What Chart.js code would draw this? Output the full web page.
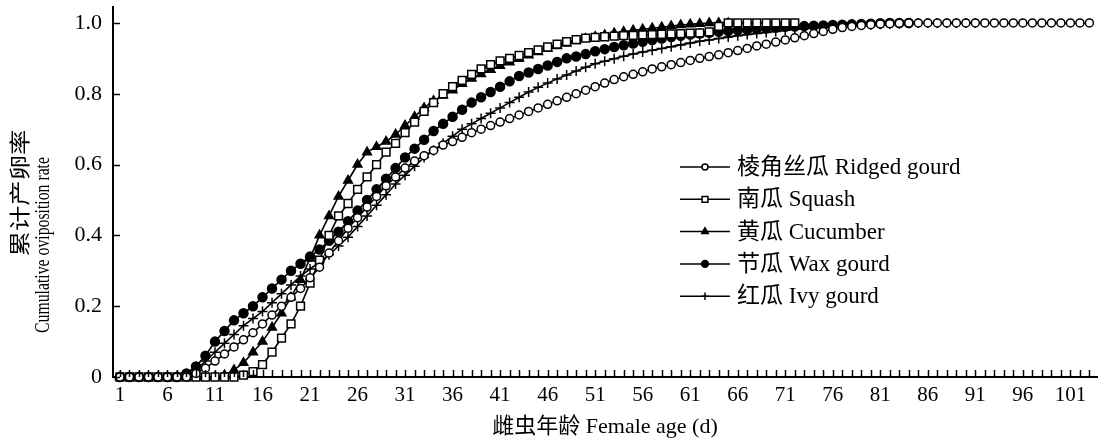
<!DOCTYPE html>
<html>
<head>
<meta charset="utf-8">
<script src="https://cdn.jsdelivr.net/npm/chart.js@4.4.1/dist/chart.umd.min.js"></script>
<style>
  html, body { margin: 0; padding: 0; background: #fff; }
  #wrap { position: relative; width: 1104px; height: 444px; }
</style>
</head>
<body>
<div id="wrap"><canvas id="ovipos"></canvas></div>
<script>
//  Cumulative oviposition rate by female age, one array per host plant (day 1 upward).
var ridgedGourd = [0, 0, 0, 0, 0, 0, 0, 0, .01, .025, .045, .065, .085, .105, .125, .15, .175, .2, .225, .25,
    .28, .31, .35, .385, .42, .45, .48, .51, .54, .565, .59, .61, .625, .64, .655, .665, .677, .69, .7, .71,
    .72, .73, .74, .75, .76, .77, .78, .79, .8, .81, .82, .83, .84, .848, .855, .862, .87, .876, .882, .888,
    .894, .9, .905, .91, .916, .922, .928, .935, .94, .946, .952, .958, .964, .97, .976, .982, .987, .99, .993, .995,
    .997, .998, .999, 1, 1, 1, 1, 1, 1, 1, 1, 1, 1, 1, 1, 1, 1, 1, 1, 1, 1, 1, 1];
var squash = [0, 0, 0, 0, 0, 0, 0, 0, 0, 0, 0, 0, 0, .005, .015, .035, .07, .11, .15, .2,
    .265, .33, .4, .455, .49, .53, .565, .6, .635, .66, .69, .72, .75, .775, .8, .82, .838, .855, .87, .882,
    .893, .9, .908, .916, .924, .932, .94, .947, .953, .957, .959, .961, .963, .964, .965, .966, .967, .968, .969, .97,
    .971, .972, .975, .99, 1, 1, 1, 1, 1, 1, 1, 1];
var cucumber = [0, 0, 0, 0, 0, 0, 0, 0, 0, 0, 0, .005, .02, .04, .07, .1, .14, .18, .225, .275,
    .335, .4, .455, .51, .555, .6, .635, .65, .665, .685, .71, .735, .76, .78, .795, .81, .828, .843, .856, .868,
    .879, .889, .899, .909, .918, .927, .935, .942, .949, .955, .961, .966, .971, .975, .979, .982, .985, .988, .991, .994,
    .996, .998, 1, 1, 1];
var waxGourd = [0, 0, 0, 0, 0, 0, 0, .01, .03, .06, .1, .13, .16, .18, .2, .225, .25, .275, .3, .32,
    .34, .36, .385, .41, .44, .47, .5, .53, .56, .59, .62, .645, .67, .695, .715, .735, .755, .775, .79, .805,
    .82, .835, .85, .86, .87, .88, .89, .9, .905, .912, .92, .926, .932, .937, .942, .947, .952, .956, .96, .964,
    .967, .97, .972, .975, .977, .979, .981, .983, .985, .987, .989, .99, .991, .992, .993, .994, .995, .996, .997, .998,
    .999, 1, 1, 1];
var ivyGourd = [0, 0, 0, 0, 0, 0, 0, .005, .02, .045, .07, .095, .12, .145, .165, .185, .21, .235, .26, .285,
    .305, .325, .345, .37, .395, .425, .455, .485, .515, .545, .57, .595, .62, .64, .66, .68, .7, .715, .73, .745,
    .76, .775, .79, .805, .818, .83, .842, .853, .864, .875, .885, .892, .899, .906, .912, .918, .923, .928, .933, .938,
    .943, .948, .952, .956, .96, .964, .967, .97, .973, .976, .979, .982, .984, .986, .988, .99, .992, .993, .994, .995,
    .996, .997, .998, .999, 1, 1, 1, 1, 1, 1, 1];

var seriesNames  = ['棱角丝瓜 Ridged gourd', '南瓜 Squash', '黄瓜 Cucumber', '节瓜 Wax gourd', '红瓜 Ivy gourd'];
var xTickLabels  = [1, 6, 11, 16, 21, 26, 31, 36, 41, 46, 51, 56, 61, 66, 71, 76, 81, 86, 91, 96, 101];
var yTickValues  = [0, 0.2, 0.4, 0.6, 0.8, 1.0];
var lastDay      = 103;

var SERIF = '"Liberation Serif", "Times New Roman", "Noto Sans CJK SC", serif';

//  turn a day-indexed array into {x, y} points
function toPoints(arr) {
    return arr.map(function (v, i) { return { x: i + 1, y: v }; });
}

//  marker style per series
var styles = [
    { pointStyle: 'circle',   radius: 4,   fill: '#fff' },
    { pointStyle: 'rect',     radius: 5.5, fill: '#fff' },
    { pointStyle: 'triangle', radius: 5,   fill: '#000' },
    { pointStyle: 'circle',   radius: 4.5, fill: '#000' },
    { pointStyle: 'cross',    radius: 5,   fill: '#000' }
];
var seriesData = [ridgedGourd, squash, cucumber, waxGourd, ivyGourd];

var datasets = seriesData.map(function (arr, i) {
    return {
        label: seriesNames[i],
        data: toPoints(arr),
        borderColor: '#000',
        borderWidth: 1.6,
        pointStyle: styles[i].pointStyle,
        pointRadius: styles[i].radius,
        pointBackgroundColor: styles[i].fill,
        pointBorderColor: '#000',
        pointBorderWidth: 1.5,
        tension: 0,
        clip: false
    };
});

//  inward tick marks on both axes
var inwardTicks = {
    id: 'inwardTicks',
    afterDraw: function (chart) {
        var ctx = chart.ctx, area = chart.chartArea;
        var x = chart.scales.x, y = chart.scales.y;
        ctx.save();
        ctx.strokeStyle = '#000';
        ctx.lineWidth = 1.5;
        ctx.beginPath();
        for (var d = 1; d <= lastDay; d++) {
            var px = Math.round(x.getPixelForValue(d)) + 0.5;
            ctx.moveTo(px, area.bottom);
            ctx.lineTo(px, area.bottom - 7);
        }
        yTickValues.forEach(function (v) {
            var py = Math.round(y.getPixelForValue(v)) + 0.5;
            ctx.moveTo(area.left, py);
            ctx.lineTo(area.left + 7, py);
        });
        ctx.stroke();
        ctx.restore();
    }
};

//  two-line rotated y title, stretched to the lengths in the original
function fittedText(ctx, text, cx, cy, len) {
    var w = ctx.measureText(text).width;
    ctx.save();
    ctx.translate(cx, cy);
    ctx.rotate(-Math.PI / 2);
    ctx.scale(len / w, 1);
    ctx.fillText(text, 0, 0);
    ctx.restore();
}
var yTitle = {
    id: 'yTitle',
    afterDraw: function (chart) {
        var ctx = chart.ctx;
        ctx.save();
        ctx.fillStyle = '#000';
        ctx.textAlign = 'center';
        ctx.textBaseline = 'middle';
        ctx.font = '21px ' + SERIF;
        fittedText(ctx, '累计产卵率', 21, 193, 127);
        ctx.font = '22px ' + SERIF;
        fittedText(ctx, 'Cumulative oviposition rate', 43, 245, 176);
        ctx.restore();
    }
};

//  legend drawn inside the plot, like the original
var innerLegend = {
    id: 'innerLegend',
    afterDraw: function (chart) {
        var ctx = chart.ctx;
        ctx.save();
        ctx.font = '23px ' + SERIF;
        ctx.textBaseline = 'middle';
        ctx.fillStyle = '#000';
        chart.data.datasets.forEach(function (ds, i) {
            var yy = 167 + i * 32.3;
            ctx.strokeStyle = '#000';
            ctx.lineWidth = 1.5;
            ctx.beginPath();
            ctx.moveTo(680, yy);
            ctx.lineTo(730, yy);
            ctx.stroke();
            ctx.fillStyle = styles[i].fill;
            Chart.helpers.drawPoint(ctx, {
                pointStyle: styles[i].pointStyle,
                radius: styles[i].radius * 0.75,
                borderWidth: 1.5,
                rotation: 0
            }, 705, yy);
            ctx.fillStyle = '#000';
            ctx.fillText(ds.label, 737, yy + 1);
        });
        ctx.restore();
    }
};

new Chart(document.getElementById('ovipos'), {
    type: 'line',
    data: { datasets: datasets },
    plugins: [inwardTicks, yTitle, innerLegend],
    options: {
        responsive: true,
        maintainAspectRatio: false,
        animation: false,
        layout: { padding: { top: 7, right: 2, left: 0, bottom: 0 } },
        plugins: { legend: { display: false }, tooltip: { enabled: false } },
        scales: {
            x: {
                type: 'linear',
                min: 0.27,
                max: 103.8,
                afterFit: function (s) { s.height = 67; s.paddingLeft = 0; s.paddingRight = 0; },
                afterBuildTicks: function (s) {
                    s.ticks = xTickLabels.map(function (v) { return { value: v }; });
                },
                grid: { display: false, drawTicks: false },
                border: { color: '#000', width: 2 },
                ticks: {
                    autoSkip: false, maxRotation: 0, padding: 6, color: '#000',
                    font: { family: SERIF, size: 21 }
                },
                title: {
                    display: true, text: '雌虫年龄 Female age (d)', color: '#000',
                    font: { family: SERIF, size: 22 }, padding: { top: 0, bottom: 4 }
                }
            },
            y: {
                min: 0,
                max: 1.045,
                afterFit: function (s) { s.width = 113; s.paddingTop = 0; s.paddingBottom = 0; },
                afterBuildTicks: function (s) {
                    s.ticks = yTickValues.map(function (v) { return { value: v }; });
                },
                grid: { display: false, drawTicks: false },
                border: { color: '#000', width: 2 },
                ticks: {
                    padding: 11, color: '#000',
                    font: { family: SERIF, size: 22 },
                    callback: function (v) { return v === 0 ? '0' : v.toFixed(1); }
                }
            }
        }
    }
});
</script>
</body>
</html>
